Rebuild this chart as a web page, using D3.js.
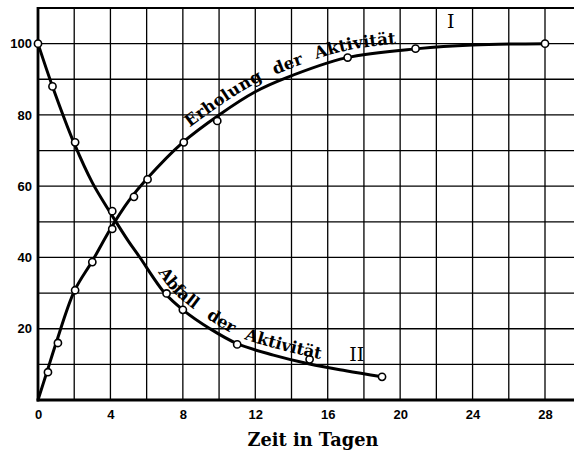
<!DOCTYPE html>
<meta charset="utf-8">
<head>
    <script type="text/javascript" src="https://cdn.jsdelivr.net/npm/d3@7"></script>
    <style>
        body { margin: 0; background: #fff; }
        .tick text { font-family: "Liberation Sans", Arial, sans-serif; font-weight: bold; font-size: 13px; fill: #000; }
        .lbl { font-family: "DejaVu Serif", serif; font-weight: bold; fill: #000; }
    </style>
    <title>Erholung und Abfall der Aktivität</title>
</head>
<body>
<script>
    // ticks
    var xTicks = [0, 4, 8, 12, 16, 20, 24, 28];
    var yTicks = [20, 40, 60, 80, 100];
    var xGrid = [2, 4, 6, 8, 10, 12, 14, 16, 18, 20, 22, 24, 26, 28];
    var yGrid = [10, 20, 30, 40, 50, 60, 70, 80, 90, 100];

    // curve I (Erholung) - drawn line and measured points
    var lineI_t = [0, 0.5, 1, 2, 3, 4, 5, 6, 8, 10, 12, 13.7, 17, 21, 24, 28];
    var lineI_v = [0, 8, 16, 30.5, 39, 48, 55.8, 62, 72.3, 80, 86.5, 90.4, 96, 98.6, 99.6, 100];
    var pointsI_t = [0.55, 1.1, 2.05, 3.0, 4.1, 5.3, 6.05, 8.05, 9.9, 17.1, 20.85, 28];
    var pointsI_v = [7.8, 16, 30.8, 38.7, 48, 57, 61.9, 72.3, 78.3, 96.1, 98.6, 100];

    // curve II (Abfall)
    var lineII_t = [0, 0.8, 2, 3, 4, 5, 5.6, 7, 8, 9.5, 11, 13, 15, 17, 19];
    var lineII_v = [100, 88, 72, 61, 52.5, 44.5, 40.2, 30, 25.3, 20, 15.8, 12.6, 10.1, 8.2, 6.5];
    var pointsII_t = [0, 0.8, 2.05, 4.1, 7.1, 8.0, 11.0, 15.0, 19.0];
    var pointsII_v = [100, 88, 72.3, 53, 29.9, 25.3, 15.6, 11.4, 6.5];

    var W = 574, H = 454;
    var svg = d3.select("body").append("svg")
        .attr("width", W).attr("height", H);

    var x = d3.scaleLinear().domain([0, 28]).range([38, 545]);
    var y = d3.scaleLinear().domain([0, 110]).range([400, 8]);

    // grid
    svg.append("g").selectAll("line")
        .data(xGrid).enter().append("line")
        .attr("x1", d => x(d)).attr("x2", d => x(d))
        .attr("y1", y(110)).attr("y2", y(0))
        .attr("stroke", "#000").attr("stroke-width", 1.3);
    svg.append("g").selectAll("line")
        .data(yGrid).enter().append("line")
        .attr("x1", x(0)).attr("x2", W)
        .attr("y1", d => y(d)).attr("y2", d => y(d))
        .attr("stroke", "#000").attr("stroke-width", 1.3);

    // frame: top, left, bottom
    svg.append("line").attr("x1", x(0)).attr("x2", W).attr("y1", y(110)).attr("y2", y(110))
        .attr("stroke", "#000").attr("stroke-width", 2.2);
    svg.append("line").attr("x1", x(0)).attr("x2", x(0)).attr("y1", y(110) - 1).attr("y2", y(0) + 1.5)
        .attr("stroke", "#000").attr("stroke-width", 2.8);
    svg.append("line").attr("x1", x(0) - 1.4).attr("x2", W).attr("y1", y(0)).attr("y2", y(0))
        .attr("stroke", "#000").attr("stroke-width", 2.8);

    // tick labels
    svg.append("g")
        .attr("transform", "translate(0," + y(0) + ")")
        .call(d3.axisBottom(x).tickValues(xTicks).tickSize(0).tickPadding(10).tickFormat(d3.format("d")))
        .call(g => g.select(".domain").remove());
    svg.append("g")
        .attr("transform", "translate(" + x(0) + ",0)")
        .call(d3.axisLeft(y).tickValues(yTicks).tickSize(0).tickPadding(6).tickFormat(d3.format("d")))
        .call(g => g.select(".domain").remove());

    var line = d3.line()
        .x(d => x(d[0])).y(d => y(d[1]))
        .curve(d3.curveCatmullRom.alpha(0.5));

    var dataI = lineI_t.map((t, i) => [t, lineI_v[i]]);
    var dataII = lineII_t.map((t, i) => [t, lineII_v[i]]);

    var pathI = svg.append("path").attr("id", "curveI")
        .attr("d", line(dataI)).attr("fill", "none")
        .attr("stroke", "#000").attr("stroke-width", 3);
    var pathII = svg.append("path").attr("id", "curveII")
        .attr("d", line(dataII)).attr("fill", "none")
        .attr("stroke", "#000").attr("stroke-width", 3);

    function drawPoints(ts, vs) {
        svg.append("g").selectAll("circle")
            .data(ts.map((t, i) => [t, vs[i]])).enter().append("circle")
            .attr("cx", d => x(d[0])).attr("cy", d => y(d[1]))
            .attr("r", 3.6)
            .attr("fill", "#fff").attr("stroke", "#000").attr("stroke-width", 1.6);
    }
    drawPoints(pointsI_t, pointsI_v);
    drawPoints(pointsII_t, pointsII_v);

    // length along a path to where it reaches a given x value
    function offsetAt(path, xv) {
        var node = path.node(), total = node.getTotalLength(), px = x(xv);
        for (var l = 0; l < total; l += 0.5) {
            if (node.getPointAtLength(l).x >= px) return l;
        }
        return total;
    }

    svg.append("text").attr("class", "lbl")
        .style("font-size", "16.5px").style("word-spacing", "7px")
        .attr("dy", -7)
        .append("textPath").attr("href", "#curveI")
        .attr("startOffset", offsetAt(pathI, 8.6))
        .text("Erholung der Aktivität");

    svg.append("text").attr("class", "lbl")
        .style("font-size", "16.5px").style("word-spacing", "9px")
        .attr("dy", -7)
        .append("textPath").attr("href", "#curveII")
        .attr("startOffset", offsetAt(pathII, 6.3))
        .text("Abfall der Aktivität");

    svg.append("text").attr("class", "lbl")
        .attr("x", x(22.8)).attr("y", 28)
        .style("font-size", "19px").style("font-weight", "normal")
        .attr("text-anchor", "middle")
        .text("I");
    svg.append("text").attr("class", "lbl")
        .attr("x", x(17.6)).attr("y", 361)
        .style("font-size", "19px").style("font-weight", "normal")
        .attr("text-anchor", "middle")
        .text("II");

    svg.append("text").attr("class", "lbl")
        .attr("x", 313).attr("y", 446)
        .style("font-size", "18px")
        .attr("text-anchor", "middle")
        .attr("textLength", 131).attr("lengthAdjust", "spacingAndGlyphs")
        .text("Zeit in Tagen");
</script>
</body>
</html>
